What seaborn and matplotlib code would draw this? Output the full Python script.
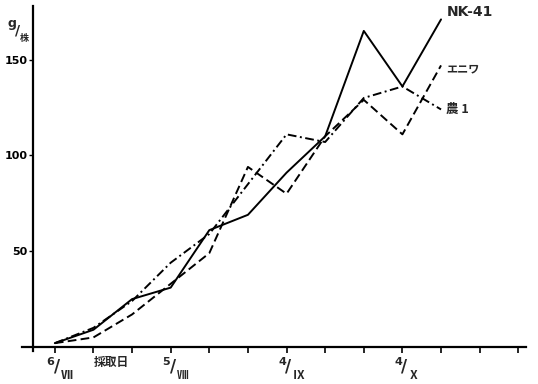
import numpy as np
import pandas as pd
import matplotlib
matplotlib.use("Agg")
import matplotlib.pyplot as plt
import seaborn as sns

days = [0, 10, 20, 30, 40, 50, 60, 70, 80, 90, 100]
nk41 = [2, 9, 25, 31, 61, 69, 91, 110, 165, 136, 171]
eniwa = [2, 5, 17, 33, 49, 94, 80, 110, 129, 111, 147]
nou1 = [2, 10, 24, 44, 59, 85, 111, 107, 130, 136, 124]
series_names = ["NK-41", "エニワ", "農 1"]
date_ticks = [0, 30, 60, 90]
date_days = ["6", "5", "4", "4"]
date_months = ["Ⅶ", "Ⅷ", "Ⅸ", "Ⅹ"]
y_ticks = [50, 100, 150]

sns.set_style("white")
plt.rcParams['font.family'] = ['Noto Sans CJK JP', 'DejaVu Sans']

df = pd.DataFrame({
    "day": days * 3,
    "value": nk41 + eniwa + nou1,
    "variety": [series_names[0]] * len(days) + [series_names[1]] * len(days) + [series_names[2]] * len(days),
})

fig = plt.figure(figsize=(5.38, 3.84), dpi=100)
ax = fig.add_axes([22 / 538, 37 / 384 - 2 * (341 / 384) / 178, 504 / 538, 341 / 384 * 180 / 178])

sns.lineplot(data=df, x="day", y="value", style="variety", color="black",
             dashes={"NK-41": "", "エニワ": (4.5, 2.2), "農 1": (4.5, 1.8, 1, 1.8)},
             linewidth=1.4, legend=False, ax=ax)

ax.set_xlim(-8.5, 122)
ax.set_ylim(-2, 178)
ax.spines["left"].set_position(("data", -5.7))
ax.spines["bottom"].set_position(("data", 0))
ax.spines["top"].set_visible(False)
ax.spines["right"].set_visible(False)
for s in ["left", "bottom"]:
    ax.spines[s].set_linewidth(1.6)
    ax.spines[s].set_color("black")

ax.set_xticks(np.arange(0, 121, 10))
ax.set_xticklabels(["" for _ in range(13)])
ax.tick_params(axis="x", bottom=True, direction="out", length=4, width=1.2, colors="black")

for d, num, mon in zip(date_ticks, date_days, date_months):
    ax.text(d - 1.1, -7.6, num, ha="center", va="center", fontsize=8, fontweight="bold",
            family="DejaVu Sans")
    ax.text(d + 0.5, -10.4, "/", ha="center", va="center", fontsize=12, fontweight="bold",
            family="DejaVu Sans")
    ax.text(d + 3.0, -14.8, mon, ha="center", va="center", fontsize=8.5, fontweight="bold")

ax.set_yticks(y_ticks)
ax.set_yticklabels([str(v) for v in y_ticks], fontsize=8, fontweight="bold",
                   family="DejaVu Sans")
ax.tick_params(axis="y", left=True, direction="out", length=3, width=1.0, pad=1, colors="black")

ax.set_xlabel("")
ax.set_ylabel("")

ax.text(10, -4.5, "採取日", ha="left", va="top", fontsize=8.5, fontweight="bold")
ax.text(-11.2, 169, "g", ha="center", va="center", fontsize=9, fontweight="bold",
        family="DejaVu Sans")
ax.text(-9.6, 165, "/", ha="center", va="center", fontsize=10, fontweight="bold",
        family="DejaVu Sans")
ax.text(-8.0, 161, "株", ha="center", va="center", fontsize=6.5, fontweight="bold")

ax.text(101.5, 175, "NK-41", ha="left", va="center", fontsize=10, fontweight="bold",
        family="DejaVu Sans")
ax.text(101.3, 145, "エニワ", ha="left", va="center", fontsize=8, fontweight="bold")
ax.text(101.3, 124, "農 1", ha="left", va="center", fontsize=9, fontweight="bold")

fig.savefig("out.png", dpi=100)
